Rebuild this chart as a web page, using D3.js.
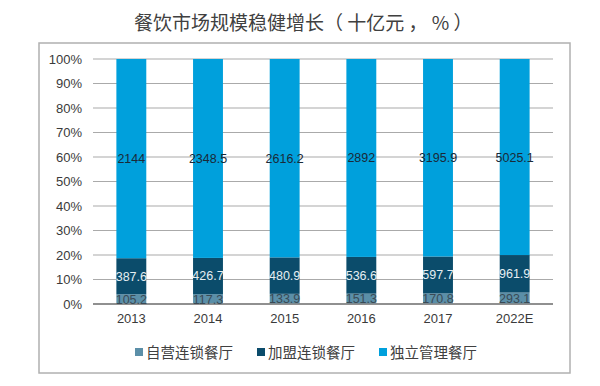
<!DOCTYPE html>
<html><head><meta charset="utf-8">
<script src="https://cdn.jsdelivr.net/npm/d3@7"></script>
<style>body{margin:0;background:#fff;}svg{display:block;}</style>
</head><body>
<svg id="c" width="600" height="386"></svg>
<script>
const categories = ["2013","2014","2015","2016","2017","2022E"];
const seriesNames = ["自营连锁餐厅","加盟连锁餐厅","独立管理餐厅"];
const selfOperated = [105.2,117.3,133.9,151.3,170.8,293.1];
const franchise = [387.6,426.7,480.9,536.6,597.7,961.9];
const independent = [2144,2348.5,2616.2,2892,3195.9,5025.1];
const yTicks = [0,0.1,0.2,0.3,0.4,0.5,0.6,0.7,0.8,0.9,1.0];
const colors = ["#5b8fa8","#0b4c6b","#00a0dc"];
const labelColors = ["#3a4a55","#e6eef2","#1a2a38"];
const title = "餐饮市场规模稳健增长（ 十亿元 ， % ）";

const svg = d3.select("#c");
const font = "'Noto Sans CJK SC', 'Liberation Sans', Arial, sans-serif";

svg.append("rect").attr("x",39).attr("y",43).attr("width",531).attr("height",330)
  .attr("fill","none").attr("stroke","#b0b0b0").attr("stroke-width",1.5);

svg.append("text").attr("x",134).attr("y",30).attr("text-anchor","start")
  .attr("font-family",font).attr("font-size",19).attr("fill","#404040")
  .attr("xml:space","preserve").style("white-space","pre").text(title);

const x = d3.scaleBand().domain(categories).range([93,553]).paddingInner(0.61).paddingOuter(0.305);
const y = d3.scaleLinear().domain([0,1]).range([304,59]);

const gGrid = svg.append("g");
gGrid.selectAll("line").data(yTicks).join("line")
  .attr("x1",93).attr("x2",553).attr("y1",d=>y(d)).attr("y2",d=>y(d))
  .attr("stroke",d=>d===0?"#888":"#aaaaaa").attr("stroke-width",d=>d===0?1.5:1.2);

const rows = categories.map((c,i)=>({cat:c, v:[selfOperated[i],franchise[i],independent[i]]}));
const stackData = rows.map(r=>{
  const tot = d3.sum(r.v); let acc=0;
  return r.v.map((v,k)=>{const s={cat:r.cat,k,v,y0:acc/tot,y1:(acc+v)/tot}; acc+=v; return s;});
}).flat();

svg.append("g").selectAll("rect").data(stackData).join("rect")
  .attr("x",d=>x(d.cat)).attr("width",x.bandwidth())
  .attr("y",d=>y(d.y1)).attr("height",d=>y(d.y0)-y(d.y1))
  .attr("fill",d=>colors[d.k]);

svg.append("line").attr("x1",93).attr("x2",553).attr("y1",y(0)).attr("y2",y(0))
  .attr("stroke","#888").attr("stroke-width",1.5);

svg.append("g").selectAll("text").data(stackData).join("text")
  .attr("x",d=>x(d.cat)+x.bandwidth()/2)
  .attr("y",d=>y((d.y0+d.y1)/2)+4.5)
  .attr("text-anchor","middle").attr("font-family","'Liberation Sans', Arial, sans-serif")
  .attr("font-size",12.5).attr("fill",d=>labelColors[d.k]).text(d=>d.v);

const yAxis = svg.append("g").attr("transform","translate(82,0)")
  .call(d3.axisLeft(y).tickValues(yTicks).tickFormat(d3.format(".0%")).tickSize(0).tickPadding(0));
yAxis.select(".domain").remove();
yAxis.selectAll("text").attr("font-family","'Liberation Sans', Arial, sans-serif").attr("font-size",13).attr("fill","#3a3a3a");

const xAxis = svg.append("g").attr("transform","translate(0,304)")
  .call(d3.axisBottom(x).tickSize(0).tickPadding(10));
xAxis.select(".domain").remove();
xAxis.selectAll("text").attr("font-family","'Liberation Sans', Arial, sans-serif").attr("font-size",13).attr("fill","#3a3a3a");

const legendX = [135,257,379];
const lg = svg.append("g").selectAll("g").data(seriesNames).join("g")
  .attr("transform",(d,i)=>`translate(${legendX[i]},352)`);
lg.append("rect").attr("x",0).attr("y",-4).attr("width",8).attr("height",8).attr("fill",(d,i)=>colors[i]);
lg.append("text").attr("x",11).attr("y",5.5).attr("font-family",font).attr("font-size",14.5).attr("fill","#404040").text(d=>d);
</script>
</body></html>
